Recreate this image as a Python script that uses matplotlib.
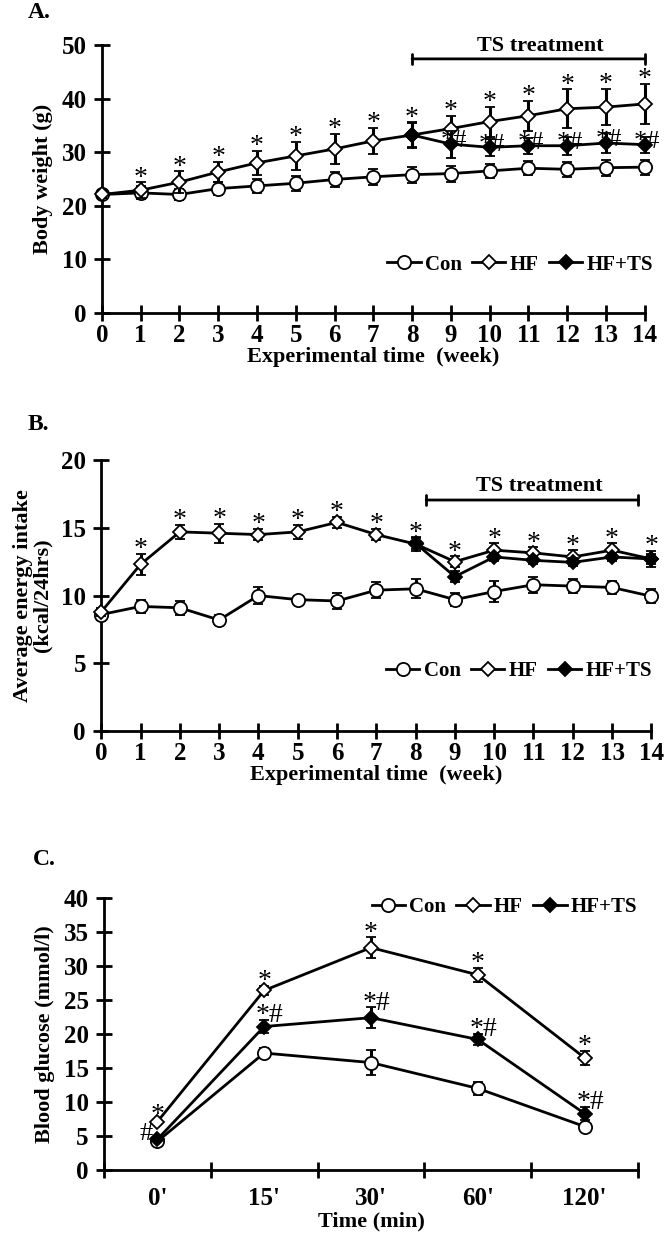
import matplotlib
matplotlib.use("Agg")
import matplotlib.pyplot as plt
import numpy as np

plt.rcParams['font.family'] = ['Liberation Serif', 'DejaVu Serif']
plt.rcParams['font.weight'] = 'bold'
plt.rcParams['axes.labelweight'] = 'bold'

# ---------------- Data ----------------
weeks = list(range(15))
weeks_ts = list(range(8, 15))

# Panel A: body weight (g)
bw_con = [22.1, 22.4, 22.1, 23.2, 23.7, 24.2, 24.9, 25.4, 25.8, 26.0, 26.5, 27.0, 26.8, 27.1, 27.2]
bw_con_err = [0.8, 1.2, 1.0, 1.2, 1.3, 1.4, 1.4, 1.5, 1.5, 1.5, 1.3, 1.3, 1.4, 1.5, 1.4]
bw_hf = [22.1, 22.9, 24.4, 26.3, 28.0, 29.3, 30.6, 32.1, 33.2, 34.4, 35.7, 36.8, 38.1, 38.4, 39.0]
bw_hf_err = [0.6, 1.5, 2.0, 1.9, 2.2, 2.6, 2.8, 2.4, 2.3, 2.4, 2.8, 2.8, 3.6, 3.4, 3.8]
bw_ts = [33.2, 31.5, 30.9, 31.2, 31.2, 31.7, 31.4]
bw_ts_err = [2.5, 2.5, 1.6, 1.5, 1.7, 1.8, 1.5]

# Panel B: average energy intake (kcal/24hrs)
ei_con = [8.6, 9.2, 9.1, 8.2, 10.0, 9.7, 9.6, 10.4, 10.5, 9.7, 10.3, 10.8, 10.7, 10.6, 9.95]
ei_con_err = [0.4, 0.5, 0.5, 0.4, 0.6, 0.3, 0.6, 0.6, 0.7, 0.5, 0.8, 0.6, 0.5, 0.5, 0.5]
ei_hf = [8.8, 12.3, 14.7, 14.6, 14.5, 14.7, 15.4, 14.5, 13.8, 12.5, 13.35, 13.15, 12.85, 13.35, 12.7]
ei_hf_err = [0.3, 0.8, 0.5, 0.7, 0.4, 0.5, 0.4, 0.4, 0.5, 0.4, 0.5, 0.4, 0.5, 0.5, 0.6]
ei_ts = [13.85, 11.4, 12.85, 12.6, 12.45, 12.85, 12.7]
ei_ts_err = [0.4, 0.4, 0.3, 0.3, 0.3, 0.3, 0.4]

# Panel C: blood glucose (mmol/l)
time_labels = ["0'", "15'", "30'", "60'", "120'"]
bg_con = [4.2, 17.2, 15.8, 12.0, 6.4]
bg_con_err = [0.3, 0.7, 1.8, 1.0, 0.4]
bg_hf = [7.1, 26.4, 32.7, 28.7, 16.5]
bg_hf_err = [0.3, 0.7, 1.5, 1.0, 1.0]
bg_ts = [4.5, 21.1, 22.4, 19.2, 8.3]
bg_ts_err = [0.3, 1.0, 1.5, 0.8, 1.0]

legend_labels = ['Con', 'HF', 'HF+TS']

# treatment bars (weeks)
ts_bar_A = (8, 14)
ts_bar_B = (8.27, 13.67)

# ---------------- Style ----------------
LW = 2.0
MS = 8.5
TICK_FS = 18
LABEL_FS = 16
STAR_FS = 20


def series(ax, x, y, err, marker, mfc, ms=MS, z=3):
    c = ax.errorbar(x, y, yerr=err, fmt='-' + marker, color='black', mfc=mfc,
                    mec='black', mew=1.3, ms=ms, lw=LW, elinewidth=2.2,
                    capsize=3.5, capthick=2.2, zorder=z)
    for a in c.get_children():
        a.set_clip_on(False)
    return c


def style_axes(ax):
    for s in ['top', 'right']:
        ax.spines[s].set_visible(False)
    for s in ['left', 'bottom']:
        ax.spines[s].set_linewidth(2.0)
    ax.tick_params(axis='both', which='major', direction='inout', length=12,
                   width=2.0, labelsize=TICK_FS)
    ax.tick_params(axis='y', pad=5)
    ax.tick_params(axis='x', pad=2)


def stars(ax, x, tops, txt, dy=-6, dx=0):
    for xi, t in zip(x, tops):
        ax.annotate(txt, (xi, t), xytext=(dx, dy), textcoords='offset points',
                    ha='center', va='bottom', fontsize=STAR_FS,
                    fontweight='normal', annotation_clip=False)


LEG_KW = dict(ncol=3, frameon=False, fontsize=15, handlelength=1.6,
              handletextpad=0.2, columnspacing=0.5)

fig = plt.figure(figsize=(6.66, 12.35), dpi=100)

# ---------------- Panel A ----------------
axA = fig.add_axes([0.153, 0.7466, 0.815, 0.217])
style_axes(axA)
axA.set_xlim(0, 14)
axA.set_ylim(0, 50)
axA.set_xticks(weeks)
axA.set_yticks(range(0, 51, 10))
cA = series(axA, weeks, bw_con, bw_con_err, 'o', 'white', ms=9.5, z=3)
hA = series(axA, weeks, bw_hf, bw_hf_err, 'D', 'white', ms=7, z=4)
tA = series(axA, weeks_ts, bw_ts, bw_ts_err, 'D', 'black', ms=7, z=5)
stars(axA, weeks[1:], [v + e for v, e in zip(bw_hf[1:], bw_hf_err[1:])], '*')
for xi, v in zip(weeks_ts[1:], bw_ts[1:]):
    axA.annotate('*#', (xi, v), xytext=(2, 2), textcoords='offset points',
                 ha='center', va='center', fontsize=STAR_FS - 1,
                 fontweight='normal', annotation_clip=False)
axA.annotate('', xy=(ts_bar_A[0], 47.4), xytext=(ts_bar_A[1], 47.4),
             arrowprops=dict(arrowstyle='|-|,widthA=0.35,widthB=0.35', lw=2.0,
                             color='black', shrinkA=0, shrinkB=0),
             annotation_clip=False)
axA.text(11.3, 49.8, 'TS treatment', ha='center', va='center', fontsize=16)
axA.set_ylabel('Body weight (g)', fontsize=LABEL_FS, labelpad=6)
axA.set_xlabel('Experimental time  (week)', fontsize=LABEL_FS, labelpad=0)
axA.legend([cA.lines[0], hA.lines[0], tA.lines[0]], legend_labels,
           loc='center right', bbox_to_anchor=(1.05, 0.18), **LEG_KW)
fig.text(0.042, 0.990, 'A.', fontsize=17, ha='left', va='center')

# ---------------- Panel B ----------------
axB = fig.add_axes([0.152, 0.408, 0.826, 0.2195])
style_axes(axB)
axB.set_xlim(0, 14)
axB.set_ylim(0, 20)
axB.set_xticks(weeks)
axB.set_yticks(range(0, 21, 5))
cB = series(axB, weeks, ei_con, ei_con_err, 'o', 'white', ms=9.5, z=3)
hB = series(axB, weeks, ei_hf, ei_hf_err, 'D', 'white', ms=7, z=4)
tB = series(axB, weeks_ts, ei_ts, ei_ts_err, 'D', 'black', ms=7, z=5)
stars(axB, weeks[1:], [v + e for v, e in zip(ei_hf[1:], ei_hf_err[1:])], '*')
axB.annotate('', xy=(ts_bar_B[0], 17.05), xytext=(ts_bar_B[1], 17.05),
             arrowprops=dict(arrowstyle='|-|,widthA=0.35,widthB=0.35', lw=2.0,
                             color='black', shrinkA=0, shrinkB=0),
             annotation_clip=False)
axB.text(11.15, 18.1, 'TS treatment', ha='center', va='center', fontsize=16)
axB.set_ylabel('Average energy intake\n(kcal/24hrs)', fontsize=LABEL_FS,
               labelpad=6, linespacing=1.0)
axB.set_xlabel('Experimental time  (week)', fontsize=LABEL_FS, labelpad=0)
axB.legend([cB.lines[0], hB.lines[0], tB.lines[0]], legend_labels,
           loc='center right', bbox_to_anchor=(1.035, 0.22), **LEG_KW)
fig.text(0.042, 0.656, 'B.', fontsize=17, ha='left', va='center')

# ---------------- Panel C ----------------
axC = fig.add_axes([0.156, 0.0526, 0.802, 0.2203])
style_axes(axC)
xc = np.arange(len(time_labels))
axC.set_xlim(-0.5, len(time_labels) - 0.5)
axC.set_ylim(0, 40)
axC.set_xticks(np.arange(-0.5, len(time_labels), 1.0))
axC.set_xticklabels([])
axC.set_xticks(xc, minor=True)
axC.set_xticklabels(time_labels, minor=True)
axC.tick_params(axis='x', which='minor', length=0, pad=12, labelsize=TICK_FS)
axC.set_yticks(range(0, 41, 5))
cC = series(axC, xc, bg_con, bg_con_err, 'o', 'white', ms=9.5, z=3)
hC = series(axC, xc, bg_hf, bg_hf_err, 'D', 'white', ms=7, z=4)
tC = series(axC, xc, bg_ts, bg_ts_err, 'D', 'black', ms=7, z=5)
stars(axC, xc, [v + e for v, e in zip(bg_hf, bg_hf_err)], '*')
stars(axC, xc[1:], [v + e for v, e in zip(bg_ts[1:], bg_ts_err[1:])], '*#', dy=-6, dx=4)
axC.annotate('#', (xc[0], bg_ts[0]), xytext=(-8, 4), textcoords='offset points',
             ha='center', va='center', fontsize=STAR_FS - 1, fontweight='normal',
             annotation_clip=False)
axC.set_ylabel('Blood glucose (mmol/l)', fontsize=LABEL_FS, labelpad=6)
axC.set_xlabel('Time (min)', fontsize=LABEL_FS, labelpad=1)
axC.legend([cC.lines[0], hC.lines[0], tC.lines[0]], legend_labels, loc='center',
           bbox_to_anchor=(0.75, 0.965), **LEG_KW)
fig.text(0.05, 0.304, 'C.', fontsize=17, ha='left', va='center')

fig.savefig('out.png', dpi=100)
